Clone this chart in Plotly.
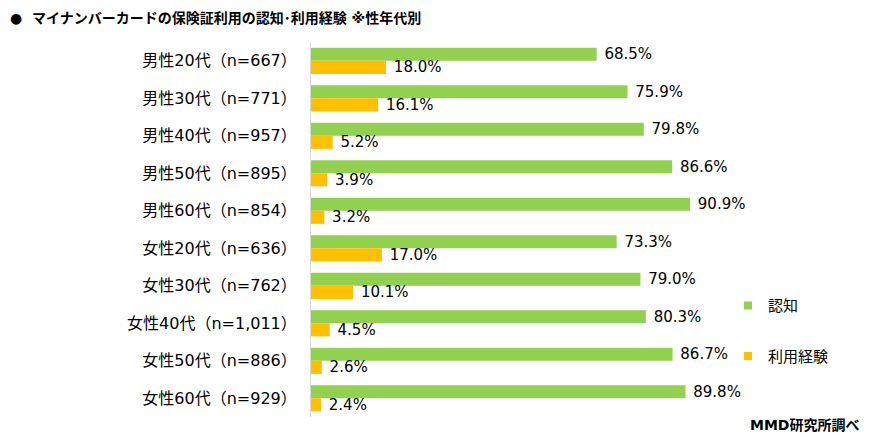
import plotly.graph_objects as go

categories = ["男性20代（n=667）", "男性30代（n=771）", "男性40代（n=957）", "男性50代（n=895）",
              "男性60代（n=854）", "女性20代（n=636）", "女性30代（n=762）", "女性40代（n=1,011）",
              "女性50代（n=886）", "女性60代（n=929）"]
awareness = [68.5, 75.9, 79.8, 86.6, 90.9, 73.3, 79.0, 80.3, 86.7, 89.8]
usage = [18.0, 16.1, 5.2, 3.9, 3.2, 17.0, 10.1, 4.5, 2.6, 2.4]
series_names = ["認知", "利用経験"]
colors = ["#92D050", "#FFC000"]
title_text = "●  マイナンバーカードの保険証利用の認知･利用経験 ※性年代別"
source_text = "MMD研究所調べ"

FONT = "DejaVu Sans, Noto Sans CJK JP, sans-serif"

fig = go.Figure()
for name, vals, col in zip(series_names, [awareness, usage], colors):
    fig.add_trace(go.Bar(
        y=categories, x=vals, name=name, orientation="h",
        marker=dict(color=col, line=dict(width=0)),
        text=[" " + f"{v:.1f}%" for v in vals],
        textposition="outside", cliponaxis=False, constraintext="none",
        textfont=dict(size=15, color="#000000", family=FONT),
        showlegend=False,
    ))

# legend entries (small square markers)
for name, col, grp in zip(series_names, colors, ["a", "b"]):
    fig.add_trace(go.Scatter(
        x=[None], y=[None], mode="markers", name=name,
        marker=dict(symbol="square", size=8, color=col),
        legendgroup=grp, showlegend=True,
    ))

fig.update_layout(
    width=871, height=441,
    margin=dict(l=311, r=143, t=42, b=24),
    barmode="group", bargap=0.3, bargroupgap=0,
    plot_bgcolor="white", paper_bgcolor="white",
    font=dict(family=FONT, size=15, color="#000000"),
    showlegend=True,
    legend=dict(x=1.0, y=0.23, xanchor="left", yanchor="middle",
                tracegroupgap=28, font=dict(size=15, family=FONT),
                itemwidth=30, bgcolor="rgba(0,0,0,0)"),
    xaxis=dict(range=[0, 100], showgrid=False, showticklabels=False, zeroline=False,
               showline=False, fixedrange=True),
    yaxis=dict(autorange="reversed", showgrid=False, showline=True, linecolor="#D9D9D9",
               linewidth=1, ticks="", ticklabelstandoff=10, tickfont=dict(size=16, family=FONT)),
    annotations=[
        dict(text="<b>" + title_text + "</b>", xref="paper", yref="paper", x=-311/417, y=1,
             xshift=8, yshift=34, xanchor="left", yanchor="top", showarrow=False,
             font=dict(size=14, family=FONT, color="#000000")),
        dict(text="<b>" + source_text + "</b>", xref="paper", yref="paper", x=1, y=0,
             xshift=133, yshift=2, xanchor="right", yanchor="top", showarrow=False,
             font=dict(size=14, family=FONT, color="#000000")),
    ],
)

fig.write_html("out.html", config={"displayModeBar": False},
               post_script="document.body.style.margin='0';")
